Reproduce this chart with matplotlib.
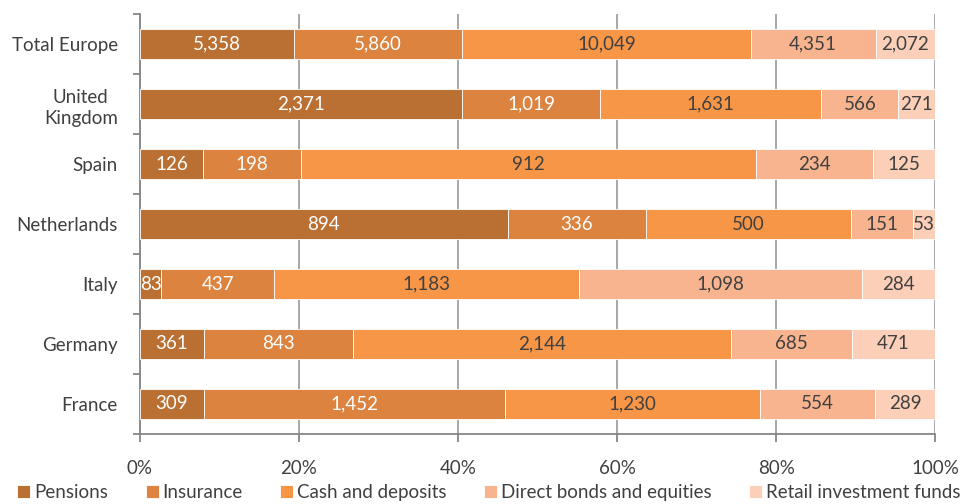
import matplotlib
matplotlib.use("Agg")
import matplotlib.pyplot as plt
import numpy as np

plt.rcParams['font.family'] = ['Lato', 'DejaVu Sans']

categories = ["Total Europe", "United\nKingdom", "Spain", "Netherlands", "Italy", "Germany", "France"]
series_names = ["Pensions", "Insurance", "Cash and deposits", "Direct bonds and equities", "Retail investment funds"]
pensions = [5358, 2371, 126, 894, 83, 361, 309]
insurance = [5860, 1019, 198, 336, 437, 843, 1452]
cash = [10049, 1631, 912, 500, 1183, 2144, 1230]
bonds = [4351, 566, 234, 151, 1098, 685, 554]
retail = [2072, 271, 125, 53, 284, 471, 289]
x_ticks = [0, 20, 40, 60, 80, 100]
x_tick_labels = ["0%", "20%", "40%", "60%", "80%", "100%"]

colors = ["#BA7033", "#DC8340", "#F79646", "#F8B48E", "#FBCFB8"]
label_colors = ["white", "white", "#404040", "#404040", "#404040"]

data = np.array([pensions, insurance, cash, bonds, retail], dtype=float)
totals = data.sum(axis=0)
pct = data / totals * 100

fig = plt.figure(figsize=(9.68, 5.04), dpi=100)
ax = fig.add_axes([0.1446, 0.139, 0.8214, 0.833])

fs = 13.5
n = len(categories)
ypos = np.arange(n)[::-1]
left = np.zeros(n)
for i, name in enumerate(series_names):
    ax.barh(ypos, pct[i], left=left, height=0.5, color=colors[i],
            edgecolor="white", linewidth=0.6, label=name, zorder=3)
    for j in range(n):
        ax.text(left[j] + pct[i][j] / 2, ypos[j], f"{int(data[i][j]):,}",
                ha="center", va="center", color=label_colors[i], fontsize=fs, zorder=4)
    left += pct[i]

ax.set_xlim(0, 100)
ax.set_ylim(-0.5, n - 0.5)
ax.set_xticks(x_ticks)
ax.set_xticklabels(x_tick_labels, fontsize=fs, color="#404040")
ax.set_yticks(ypos)
ax.set_yticklabels(categories, fontsize=fs, color="#404040", multialignment="center",
                   linespacing=1.35)
ax.set_yticks(np.arange(-0.5, n, 1.0), minor=True)
ax.tick_params(axis="y", which="major", length=0, pad=16)
ax.tick_params(axis="y", which="minor", length=5, width=1.3, color="#868686")
ax.tick_params(axis="x", which="major", length=6, width=1.3, color="#868686", pad=13)
ax.xaxis.grid(True, color="#A0A0A0", linewidth=1.3, zorder=0)
ax.set_axisbelow(True)
for s in ["top", "right"]:
    ax.spines[s].set_visible(False)
for s in ["left", "bottom"]:
    ax.spines[s].set_color("#868686")
    ax.spines[s].set_linewidth(1.3)

fig.legend(loc="lower center", bbox_to_anchor=(0.505, -0.028), ncol=5, frameon=False,
           fontsize=fs, handlelength=0.7, handleheight=0.7, handletextpad=0.2,
           columnspacing=2.0, labelcolor="#404040")

fig.savefig("out.png", dpi=100)
